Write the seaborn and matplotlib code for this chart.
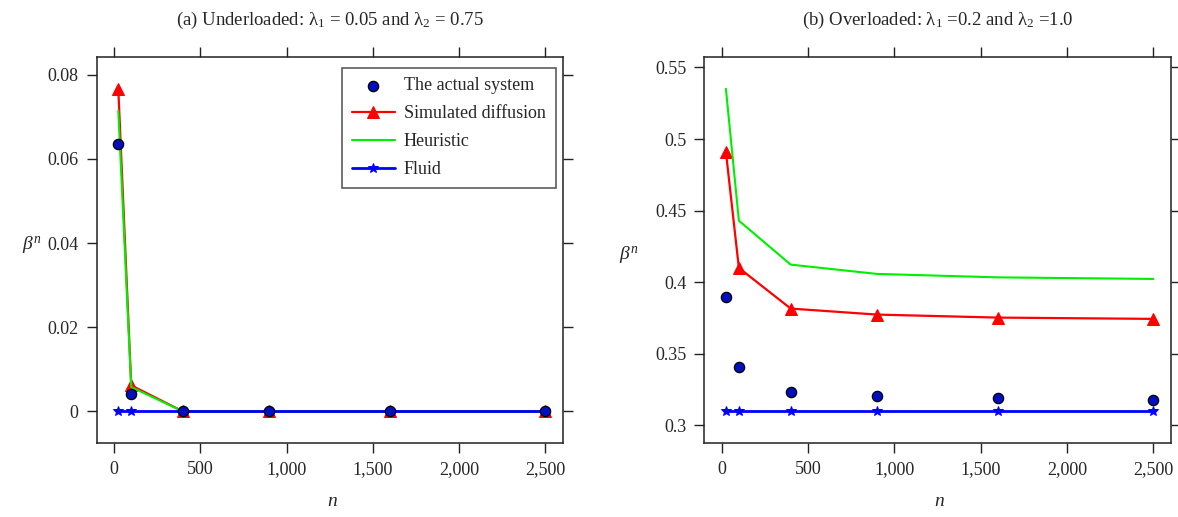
import numpy as np
import pandas as pd
import matplotlib
matplotlib.use("Agg")
import matplotlib.pyplot as plt
from matplotlib.ticker import FuncFormatter
import seaborn as sns

# data
n = [25, 100, 400, 900, 1600, 2500]

# (a) underloaded
under_actual = [0.0635, 0.0041, 0.0, 0.0, 0.0, 0.0]
under_diffusion = [0.0766, 0.0062, 0.0, 0.0, 0.0, 0.0]
under_heuristic = [0.0715, 0.0058, 0.0, 0.0, 0.0, 0.0]
under_fluid = [0.0, 0.0, 0.0, 0.0, 0.0, 0.0]

# (b) overloaded
over_actual = [0.390, 0.3405, 0.3235, 0.3207, 0.3190, 0.3179]
over_diffusion = [0.491, 0.410, 0.3816, 0.3774, 0.3753, 0.3744]
over_heuristic = [0.535, 0.443, 0.4123, 0.4058, 0.4034, 0.4023]
over_fluid = [0.3098, 0.3098, 0.3098, 0.3098, 0.3098, 0.3098]

titles = [r"(a) Underloaded: λ$_1$ = 0.05 and λ$_2$ = 0.75",
          r"(b) Overloaded: λ$_1$ =0.2 and λ$_2$ =1.0"]
xticks = [0, 500, 1000, 1500, 2000, 2500]
yticks_a = [0, 0.02, 0.04, 0.06, 0.08]
yticks_b = [0.3, 0.35, 0.4, 0.45, 0.5, 0.55]

sns.set_style("ticks")
plt.rcParams['font.family'] = ['Liberation Serif', 'DejaVu Serif']
plt.rcParams['mathtext.fontset'] = 'custom'
plt.rcParams['mathtext.rm'] = 'Liberation Serif'
plt.rcParams['mathtext.it'] = 'Liberation Serif:italic'
plt.rcParams['font.size'] = 13

fig = plt.figure(figsize=(11.78, 5.17), dpi=100)
ax1 = fig.add_axes([0.0821, 0.1431, 0.3956, 0.7472])
ax2 = fig.add_axes([0.5979, 0.1431, 0.3959, 0.7472])


def draw(ax, actual, diffusion, heuristic, fluid):
    df = pd.DataFrame({"n": n, "actual": actual, "diffusion": diffusion,
                       "heuristic": heuristic, "fluid": fluid})
    sns.lineplot(data=df, x="n", y="diffusion", ax=ax, color="red",
                 linewidth=1.6, marker="^", markersize=8, markeredgecolor="red",
                 label="Simulated diffusion", zorder=2)
    sns.lineplot(data=df, x="n", y="heuristic", ax=ax, color="#00ee00",
                 linewidth=1.5, label="Heuristic", zorder=3)
    sns.lineplot(data=df, x="n", y="fluid", ax=ax, color="blue",
                 linewidth=2, marker="*", markersize=7, markeredgecolor="blue",
                 label="Fluid", zorder=4)
    sns.scatterplot(data=df, x="n", y="actual", ax=ax, color="#0010c0",
                    edgecolor="black", linewidth=0.9, s=55,
                    label="The actual system", zorder=5)


draw(ax1, under_actual, under_diffusion, under_heuristic, under_fluid)
draw(ax2, over_actual, over_diffusion, over_heuristic, over_fluid)

ax1.set_ylim(-0.0075, 0.0843)
ax2.set_ylim(0.2877, 0.5575)
ax1.set_yticks(yticks_a)
ax2.set_yticks(yticks_b)

for ax, title in zip([ax1, ax2], titles):
    ax.set_xlim(-100, 2600)
    ax.set_xticks(xticks)
    ax.xaxis.set_major_formatter(FuncFormatter(lambda v, p: f"{v:,.0f}"))
    ax.yaxis.set_major_formatter(FuncFormatter(lambda v, p: f"{v:g}"))
    ax.tick_params(axis="both", which="both", direction="out", length=7,
                   width=1, color="#222222", labelsize=13, pad=6,
                   top=True, right=True, labeltop=False, labelright=False)
    for sp in ax.spines.values():
        sp.set_visible(True)
        sp.set_linewidth(1.1)
        sp.set_color("#222222")
    ax.set_title(title, fontsize=13.5, pad=23)
    ax.set_xlabel(r"$n$", fontsize=14)
    ax.set_ylabel(r"$\beta^n$", fontsize=14, rotation=0, va="center", ha="center")
    ax.xaxis.set_label_coords(0.505, -0.13)

ax1.yaxis.set_label_coords(-0.14, 0.513)
ax2.yaxis.set_label_coords(-0.162, 0.487)

# legend only on the left panel
h, l = ax1.get_legend_handles_labels()
order = ["The actual system", "Simulated diffusion", "Heuristic", "Fluid"]
hd = dict(zip(l, h))
leg = ax1.legend([hd[k] for k in order], order, loc="upper right",
                 bbox_to_anchor=(0.985, 0.972), borderaxespad=0,
                 frameon=True, fancybox=False,
                 edgecolor="#222222", fontsize=13, handlelength=2.4,
                 borderpad=0.55, labelspacing=0.6, handletextpad=0.5)
leg.get_frame().set_linewidth(1.1)
ax2.get_legend().remove()

fig.savefig("out.png", dpi=100)
